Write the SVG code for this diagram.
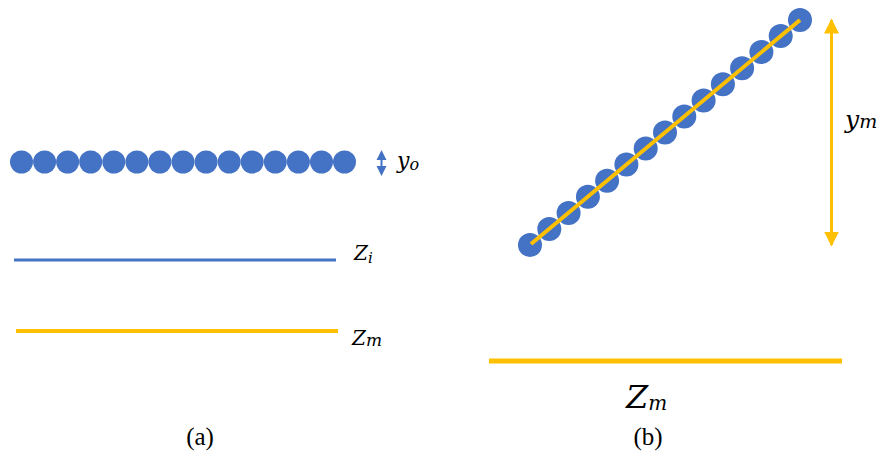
<svg xmlns="http://www.w3.org/2000/svg" width="889" height="454" viewBox="0 0 889 454">
<defs>
<marker id="ah" viewBox="0 0 10 10" refX="9" refY="5" markerWidth="5" markerHeight="5" orient="auto-start-reverse" markerUnits="strokeWidth">
<path d="M0,0 L10,5 L0,10 z" fill="#FFC000"/>
</marker>
<circle id="b1" r="11.5" fill="#4472C4"/>
<circle id="b2" r="12" fill="#4472C4"/>
</defs>
<g id="panel-a">
<g id="chain-a">
<use href="#b1" x="21.5" y="162"/>
<use href="#b1" x="44.6" y="162"/>
<use href="#b1" x="67.6" y="162"/>
<use href="#b1" x="90.7" y="162"/>
<use href="#b1" x="113.8" y="162"/>
<use href="#b1" x="136.9" y="162"/>
<use href="#b1" x="159.9" y="162"/>
<use href="#b1" x="183" y="162"/>
<use href="#b1" x="206.1" y="162"/>
<use href="#b1" x="229.2" y="162"/>
<use href="#b1" x="252.2" y="162"/>
<use href="#b1" x="275.3" y="162"/>
<use href="#b1" x="298.4" y="162"/>
<use href="#b1" x="321.5" y="162"/>
<use href="#b1" x="344.5" y="162"/>
</g>
<g id="yo-arrow">
<path d="M381.5,150 L386.5,160 L376.5,160 z M381.5,176 L386.5,166 L376.5,166 z M380.5,160 h2 v6 h-2 z" fill="#4472C4"/>
<text x="397" y="168" font-family="DejaVu Serif" font-style="italic" font-size="22">y<tspan font-size="16" dy="2">o</tspan></text>
</g>
<g id="zi">
<line x1="14" y1="260" x2="336" y2="260" stroke="#4472C4" stroke-width="3"/>
<text x="354" y="260" font-family="DejaVu Serif" font-style="italic" font-size="20">Z<tspan font-size="15" dy="3">i</tspan></text>
</g>
<g id="zm-a">
<line x1="16" y1="331" x2="338" y2="331" stroke="#FFC000" stroke-width="4"/>
<text x="352" y="345" font-family="DejaVu Serif" font-style="italic" font-size="20">Z<tspan font-size="17" dy="1">m</tspan></text>
</g>
<text x="200" y="445" text-anchor="middle" font-family="Liberation Serif" font-size="25">(a)</text>
</g>
<g id="panel-b">
<g id="chain-b">
<use href="#b2" x="530" y="245"/>
<use href="#b2" x="549.3" y="228.9"/>
<use href="#b2" x="568.6" y="212.9"/>
<use href="#b2" x="587.9" y="196.8"/>
<use href="#b2" x="607.1" y="180.7"/>
<use href="#b2" x="626.4" y="164.6"/>
<use href="#b2" x="645.7" y="148.6"/>
<use href="#b2" x="665" y="132.5"/>
<use href="#b2" x="684.3" y="116.4"/>
<use href="#b2" x="703.6" y="100.4"/>
<use href="#b2" x="722.9" y="84.3"/>
<use href="#b2" x="742.1" y="68.2"/>
<use href="#b2" x="761.4" y="52.1"/>
<use href="#b2" x="780.7" y="36.1"/>
<use href="#b2" x="800" y="20"/>
<line x1="531" y1="244" x2="800" y2="20" stroke="#FFC000" stroke-width="4"/>
</g>
<g id="ym-arrow">
<line x1="831.5" y1="20" x2="831.5" y2="245" stroke="#FFC000" stroke-width="3" marker-start="url(#ah)" marker-end="url(#ah)"/>
<text x="845" y="128" font-family="DejaVu Serif" font-style="italic" font-size="25">y<tspan font-size="19">m</tspan></text>
</g>
<g id="zm-b">
<line x1="489" y1="361" x2="842" y2="361" stroke="#FFC000" stroke-width="5"/>
<text x="626" y="408" font-family="DejaVu Serif" font-style="italic" font-size="32">Z<tspan font-size="20" dy="2">m</tspan></text>
</g>
<text x="648" y="445" text-anchor="middle" font-family="Liberation Serif" font-size="25">(b)</text>
</g>
</svg>
